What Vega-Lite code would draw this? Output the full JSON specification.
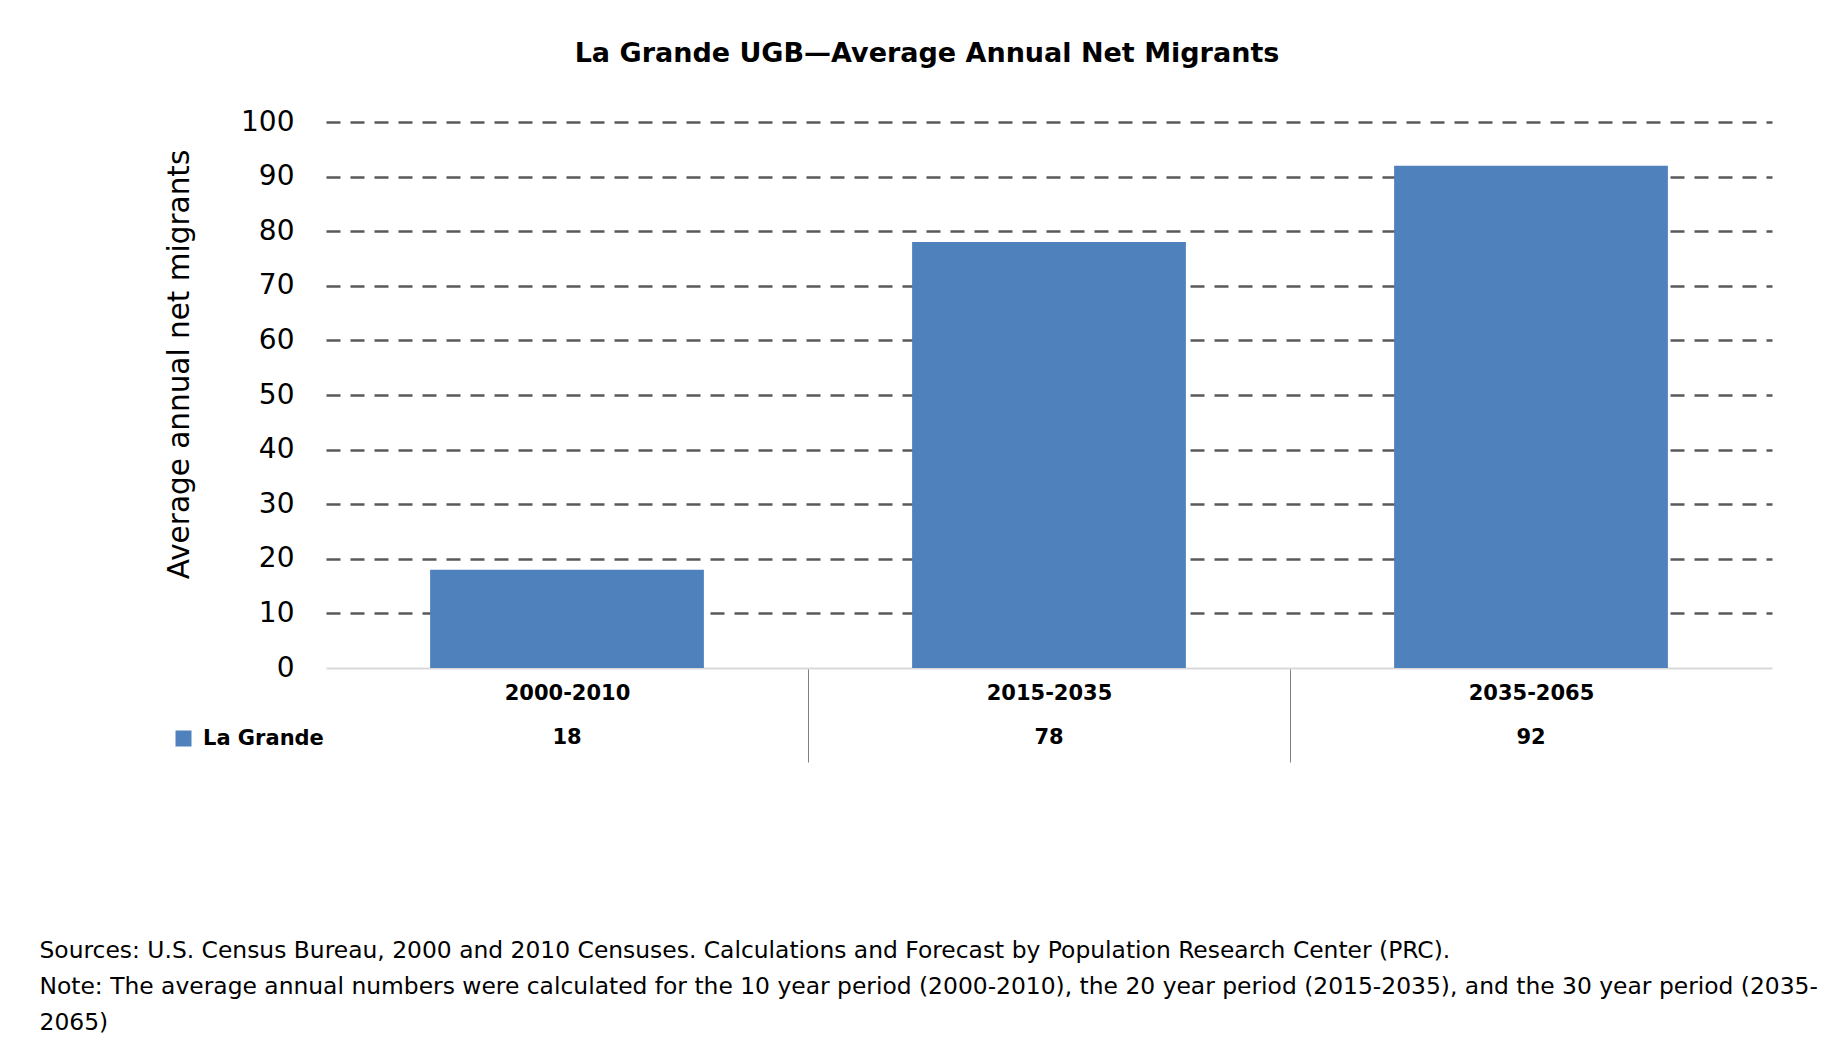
{
  "$schema": "https://vega.github.io/schema/vega-lite/v6.json",
  "autosize": {"type": "none"},
  "width": 1446,
  "height": 546,
  "padding": {"left": 326, "top": 122, "right": 73, "bottom": 377},
  "background": "white",
  "config": {"view": {"stroke": null}, "font": "DejaVu Sans"},
  "title": {
    "text": "La Grande UGB—Average Annual Net Migrants",
    "font": "DejaVu Sans",
    "fontSize": 27,
    "fontWeight": "bold",
    "color": "black",
    "anchor": "middle",
    "frame": "group",
    "dx": -122,
    "offset": 40
  },
  "data": {
    "values": [
      {"period": "2000-2010", "value": 18, "series": "La Grande"},
      {"period": "2015-2035", "value": 78, "series": "La Grande"},
      {"period": "2035-2065", "value": 92, "series": "La Grande"}
    ]
  },
  "encoding": {
    "x": {
      "field": "period",
      "type": "nominal",
      "sort": null,
      "scale": {"paddingInner": 0, "paddingOuter": 0},
      "axis": {
        "domainColor": "#D9D9D9",
        "domainWidth": 2,
        "ticks": true,
        "tickSize": 94,
        "tickColor": "#808080",
        "tickWidth": 1,
        "tickOffset": -241,
        "labelOffset": 241,
        "tickOpacity": {"condition": {"test": "datum.value === '2000-2010'", "value": 0}, "value": 1},
        "labelPadding": -80,
        "labelFont": "DejaVu Sans",
        "labelFontSize": 21,
        "labelFontWeight": "bold",
        "labelColor": "black",
        "labelAngle": 0,
        "grid": false,
        "title": [
          "Sources: U.S. Census Bureau, 2000 and 2010 Censuses. Calculations and Forecast by Population Research Center (PRC).",
          "Note: The average annual numbers were calculated for the 10 year period (2000-2010), the 20 year period (2015-2035), and the 30 year period (2035-",
          "2065)"
        ],
        "titleX": -287,
        "titleY": 271,
        "titleAlign": "left",
        "titleBaseline": "top",
        "titleFont": "DejaVu Sans",
        "titleFontSize": 23.4,
        "titleFontWeight": "normal",
        "titleColor": "black",
        "titleLineHeight": 36
      }
    },
    "y": {
      "type": "quantitative",
      "scale": {"domain": [0, 100]},
      "axis": {
        "values": [0, 10, 20, 30, 40, 50, 60, 70, 80, 90, 100],
        "grid": true,
        "gridDash": [14, 10],
        "gridColor": "#595959",
        "gridWidth": 2.6,
        "gridOpacity": {"condition": {"test": "datum.value === 0", "value": 0}, "value": 1},
        "domain": false,
        "ticks": false,
        "tickSize": 0,
        "labelPadding": 32,
        "labelFont": "DejaVu Sans",
        "labelFontSize": 28,
        "labelColor": "black",
        "title": "Average annual net migrants",
        "titleFont": "DejaVu Sans",
        "titleFontSize": 29.5,
        "titleFontWeight": "normal",
        "titleColor": "black",
        "titleX": -147,
        "titleY": 242,
        "titleAngle": -90,
        "titleAlign": "center",
        "titleBaseline": "middle"
      }
    }
  },
  "layer": [
    {
      "mark": {"type": "bar", "width": {"band": 0.568}},
      "encoding": {
        "y": {"field": "value"},
        "color": {
          "field": "series",
          "type": "nominal",
          "scale": {"range": ["#4F81BD"]},
          "legend": {
            "orient": "none",
            "legendX": -153,
            "legendY": 606,
            "title": null,
            "symbolType": "square",
            "symbolSize": 256,
            "symbolStrokeWidth": 0,
            "labelFont": "DejaVu Sans",
            "labelFontSize": 21,
            "labelFontWeight": "bold",
            "labelColor": "black",
            "labelOffset": 9,
            "padding": 0
          }
        }
      }
    },
    {
      "mark": {
        "type": "text",
        "dy": 70,
        "fontSize": 21,
        "fontWeight": "bold",
        "font": "DejaVu Sans",
        "color": "black",
        "baseline": "middle"
      },
      "encoding": {
        "y": {"datum": 0},
        "text": {"field": "value", "type": "quantitative"}
      }
    }
  ]
}
